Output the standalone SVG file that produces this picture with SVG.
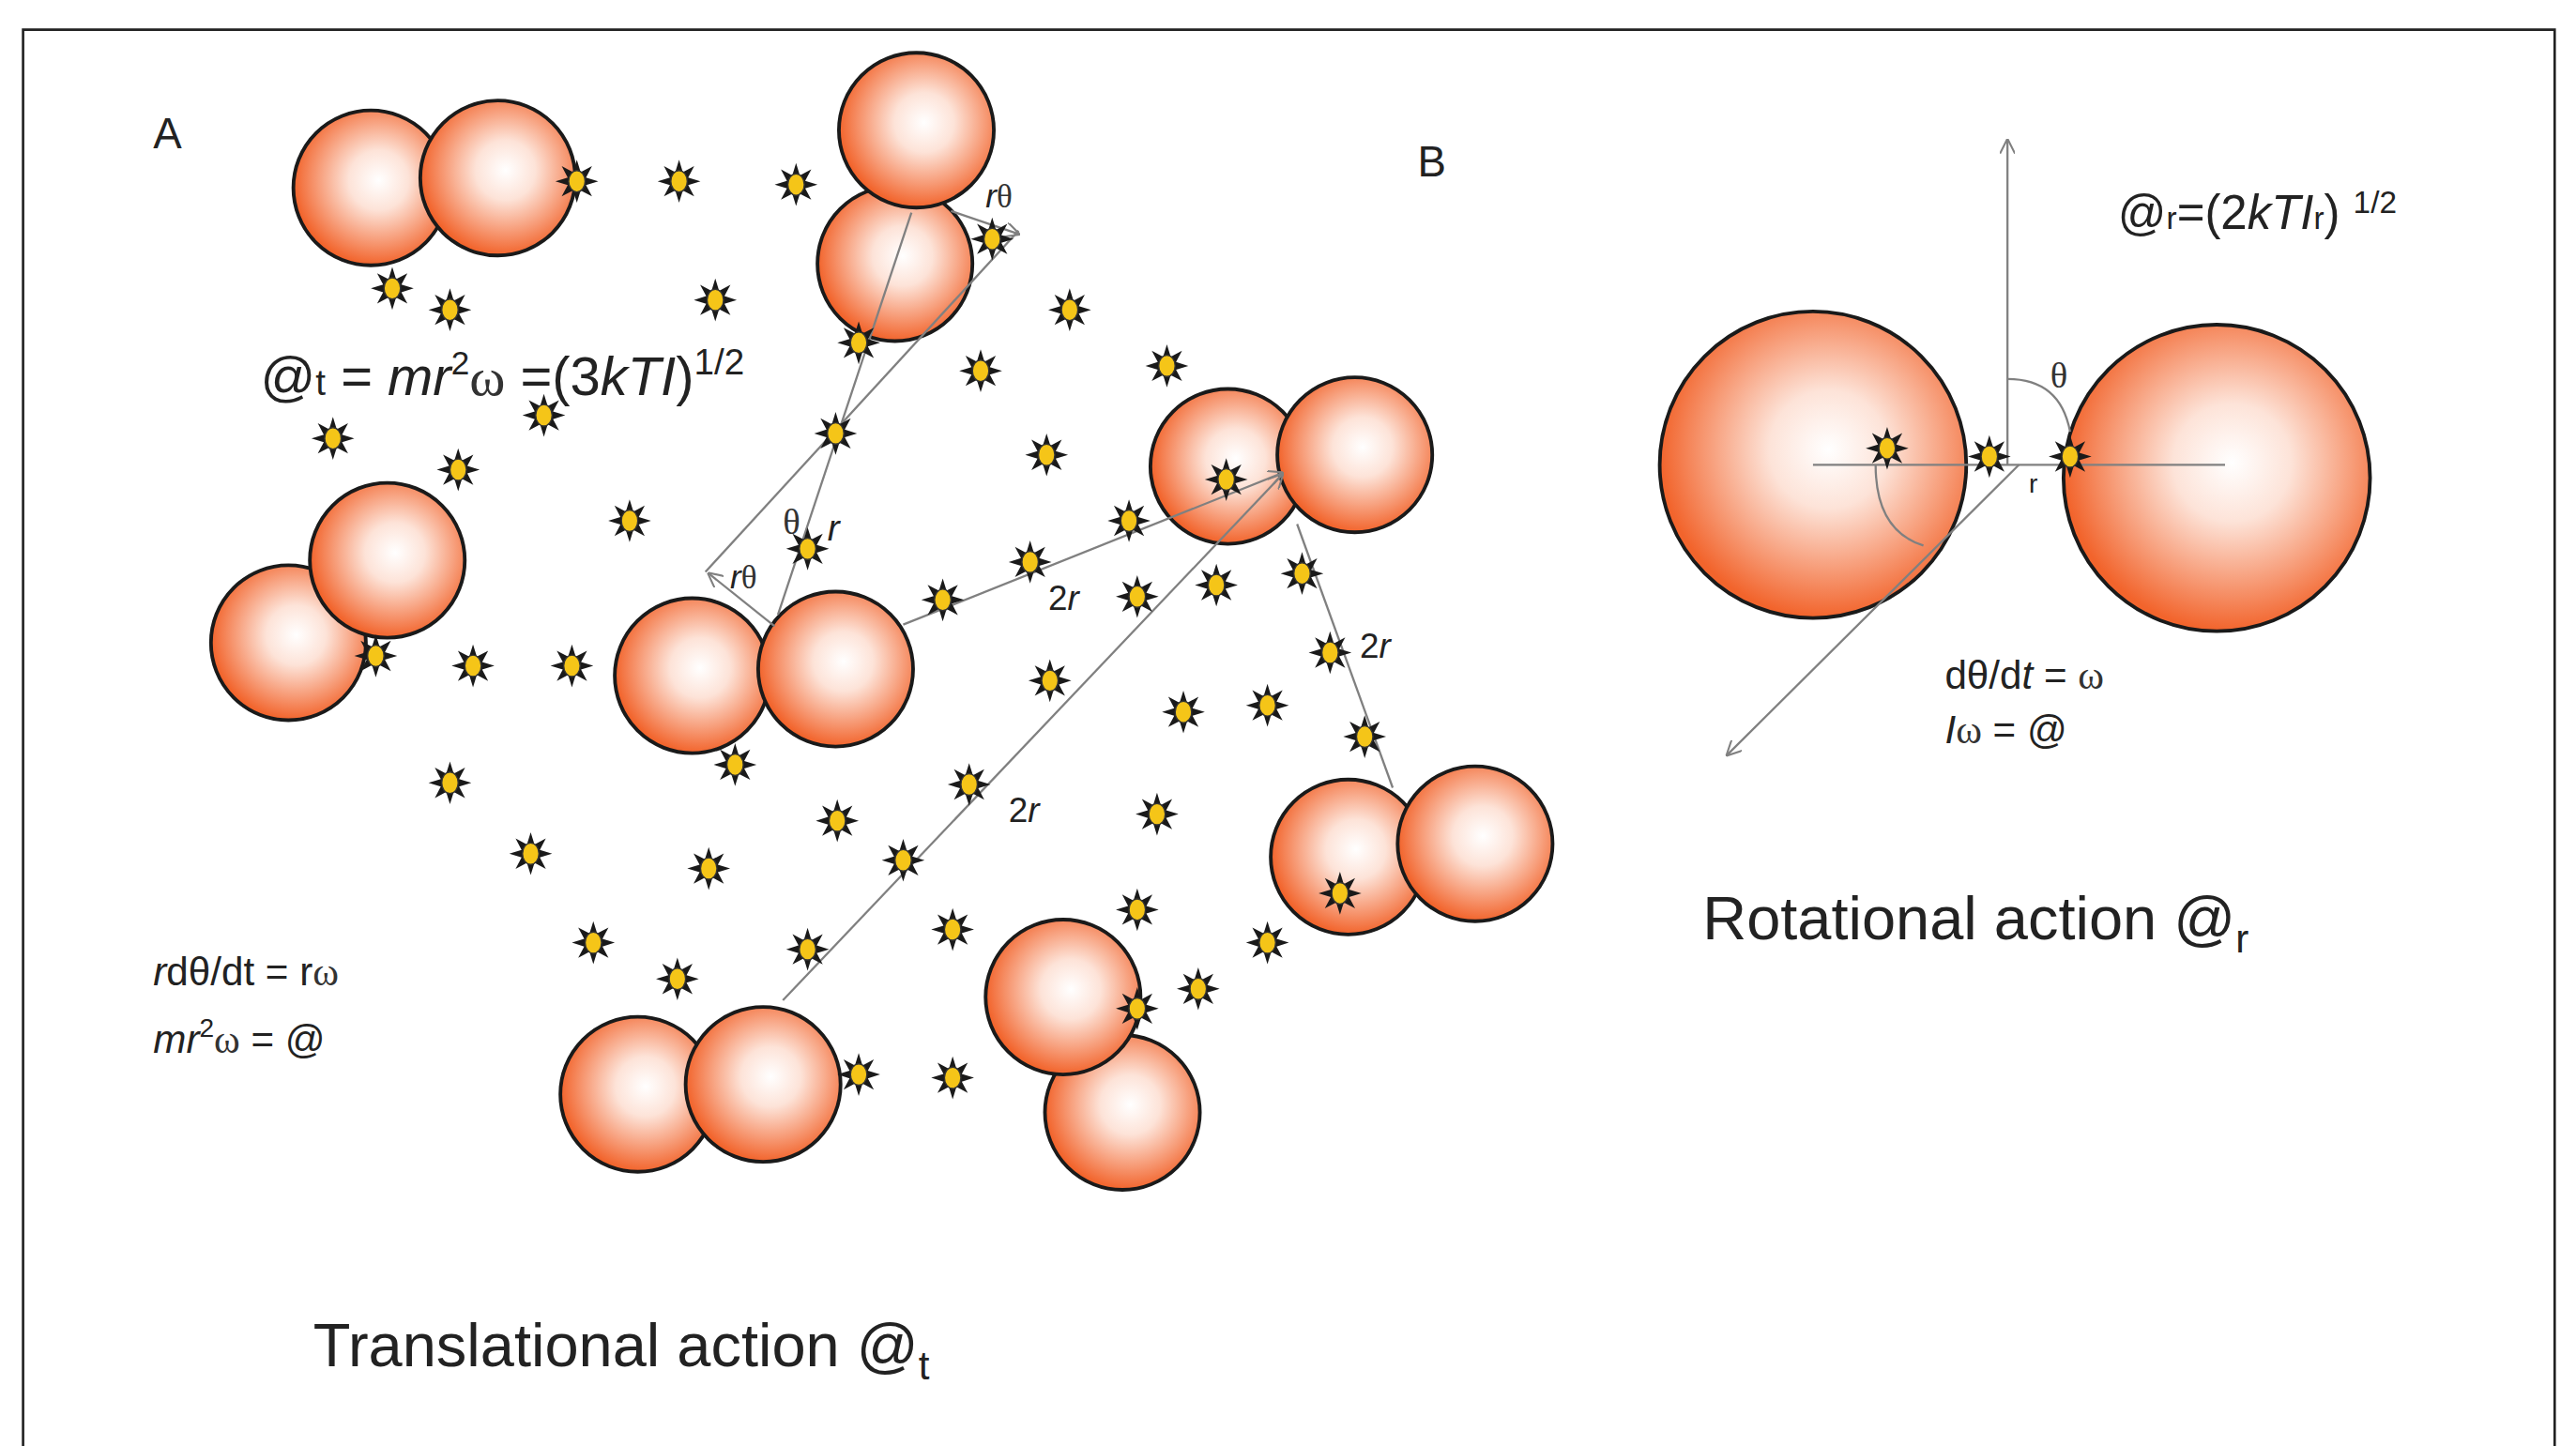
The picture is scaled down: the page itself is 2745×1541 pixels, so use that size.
<svg xmlns="http://www.w3.org/2000/svg" xmlns:xlink="http://www.w3.org/1999/xlink" width="2745" height="1541" viewBox="0 0 2745 1541">
<style>
.b{fill:url(#g);stroke:#1a1a1a;stroke-width:2.2}
.l{stroke:#808080;stroke-width:1.3;fill:none}
.t{font-family:"Liberation Sans",Arial,sans-serif;fill:#222}
.s{font-family:"Liberation Serif","Times New Roman",serif;fill:#333}
</style>
<defs>
<radialGradient id="g" cx="0.55" cy="0.45" r="0.55">
<stop offset="0" stop-color="#ffffff"/><stop offset="0.35" stop-color="#fde3d8"/><stop offset="1" stop-color="#f2642c"/>
</radialGradient>
<g id="st"><path d="M0,-13 L2.3,-5.54 9.19,-9.19 5.54,-2.3 13,0 5.54,2.3 9.19,9.19 2.3,5.54 0,13 -2.3,5.54 -9.19,9.19 -5.54,2.3 -13,0 -5.54,-2.3 -9.19,-9.19 -2.3,-5.54Z" fill="#1a1a1a"/><ellipse rx="5" ry="6.5" fill="#f5c518" stroke="#333" stroke-width="0.8"/></g>
<marker id="a" viewBox="0 0 10 10" refX="9" refY="5" markerWidth="7" markerHeight="7" orient="auto"><path d="M0,0 L10,5 L0,10" fill="none" stroke="#808080" stroke-width="1.3"/></marker>
</defs>
<rect width="2745" height="1541" fill="#fff"/>
<g transform="scale(1.7563)">
<path d="M14,880 V18 H1550 V880" fill="none" stroke="#222" stroke-width="1.5"/>
<g id="dimer1"><circle class="b" cx="225" cy="114" r="47"/><circle class="b" cx="302" cy="108" r="47"/></g>
<g id="dimer2"><circle class="b" cx="543" cy="160" r="47"/><circle class="b" cx="556" cy="79" r="47"/></g>
<g id="dimer3"><circle class="b" cx="745" cy="283" r="47"/><circle class="b" cx="822" cy="276" r="47"/></g>
<g id="dimer4"><circle class="b" cx="175" cy="390" r="47"/><circle class="b" cx="235" cy="340" r="47"/></g>
<g id="dimer5"><circle class="b" cx="420" cy="410" r="47"/><circle class="b" cx="507" cy="406" r="47"/></g>
<g id="dimer6"><circle class="b" cx="818" cy="520" r="47"/><circle class="b" cx="895" cy="512" r="47"/></g>
<g id="dimer7"><circle class="b" cx="387" cy="664" r="47"/><circle class="b" cx="463" cy="658" r="47"/></g>
<g id="dimer8"><circle class="b" cx="681" cy="675" r="47"/><circle class="b" cx="645" cy="605" r="47"/></g>
<g id="bigdimer"><circle class="b" cx="1100" cy="282" r="93"/><circle class="b" cx="1345" cy="290" r="93"/></g>
<g id="connectors">
<line class="l" x1="553" y1="129" x2="472" y2="373"/>
<line class="l" x1="618" y1="140" x2="428" y2="347"/>
<line class="l" x1="470" y1="380" x2="430" y2="348" marker-end="url(#a)"/>
<line class="l" x1="577" y1="128" x2="618" y2="142" marker-end="url(#a)"/>
<line class="l" x1="548" y1="379" x2="778" y2="287" marker-end="url(#a)"/>
<line class="l" x1="475" y1="607" x2="778" y2="288" marker-end="url(#a)"/>
<line class="l" x1="787" y1="318" x2="845" y2="478"/>
<line class="l" x1="1218" y1="282" x2="1218" y2="85" marker-end="url(#a)"/>
<line class="l" x1="1100" y1="282" x2="1350" y2="282"/>
<line class="l" x1="1225" y1="282" x2="1048" y2="458" marker-end="url(#a)"/>
<path class="l" d="M1218,230 Q1250,230 1256,262"/>
<path class="l" d="M1138,282 Q1138,322 1167,331"/>
</g>
<g id="stars">
<use href="#st" x="350" y="110"/><use href="#st" x="412" y="110"/><use href="#st" x="483" y="112"/><use href="#st" x="238" y="175"/><use href="#st" x="273" y="188"/><use href="#st" x="434" y="182"/><use href="#st" x="602" y="145"/><use href="#st" x="521" y="208"/><use href="#st" x="649" y="188"/><use href="#st" x="595" y="225"/><use href="#st" x="708" y="222"/><use href="#st" x="330" y="252"/><use href="#st" x="202" y="266"/><use href="#st" x="507" y="263"/><use href="#st" x="635" y="276"/><use href="#st" x="278" y="285"/><use href="#st" x="382" y="316"/><use href="#st" x="685" y="316"/><use href="#st" x="744" y="291"/><use href="#st" x="490" y="333"/><use href="#st" x="625" y="341"/><use href="#st" x="572" y="364"/><use href="#st" x="690" y="362"/><use href="#st" x="738" y="355"/><use href="#st" x="790" y="348"/><use href="#st" x="228" y="398"/><use href="#st" x="287" y="404"/><use href="#st" x="347" y="404"/><use href="#st" x="637" y="413"/><use href="#st" x="807" y="396"/><use href="#st" x="718" y="432"/><use href="#st" x="769" y="428"/><use href="#st" x="828" y="447"/><use href="#st" x="446" y="464"/><use href="#st" x="273" y="475"/><use href="#st" x="588" y="476"/><use href="#st" x="508" y="498"/><use href="#st" x="702" y="494"/><use href="#st" x="322" y="518"/><use href="#st" x="430" y="527"/><use href="#st" x="548" y="522"/><use href="#st" x="690" y="552"/><use href="#st" x="578" y="564"/><use href="#st" x="813" y="542"/><use href="#st" x="360" y="572"/><use href="#st" x="490" y="576"/><use href="#st" x="411" y="594"/><use href="#st" x="769" y="572"/><use href="#st" x="727" y="600"/><use href="#st" x="690" y="612"/><use href="#st" x="521" y="652"/><use href="#st" x="578" y="654"/><use href="#st" x="1145" y="272"/><use href="#st" x="1207" y="277"/><use href="#st" x="1256" y="277"/>
</g>
<g id="labels">
<text class="t" x="93" y="90" font-size="26">A</text>
<text class="t" x="860" y="107" font-size="26">B</text>
<text class="t" x="158" y="240" font-size="33">@<tspan font-size="22">t</tspan> = <tspan font-style="italic">mr</tspan><tspan font-size="20" dy="-13">2</tspan><tspan class="s" dy="13">ω</tspan> =(3<tspan font-style="italic">kTI</tspan>)<tspan font-size="22" dy="-13">1/2</tspan></text>
<text class="t" x="598" y="126" font-size="20"><tspan font-style="italic">r</tspan><tspan class="s">θ</tspan></text>
<text class="t" x="443" y="357" font-size="20"><tspan font-style="italic">r</tspan><tspan class="s">θ</tspan></text>
<text class="s" x="475" y="324" font-size="22">θ</text>
<text class="t" x="502" y="328" font-size="22" font-style="italic">r</text>
<text class="t" x="636" y="370" font-size="21">2<tspan font-style="italic">r</tspan></text>
<text class="t" x="612" y="499" font-size="21">2<tspan font-style="italic">r</tspan></text>
<text class="t" x="825" y="399" font-size="21">2<tspan font-style="italic">r</tspan></text>
<text class="t" x="93" y="598" font-size="24"><tspan font-style="italic">r</tspan>dθ/dt = r<tspan class="s">ω</tspan></text>
<text class="t" x="93" y="639" font-size="24"><tspan font-style="italic">mr</tspan><tspan font-size="16" dy="-10">2</tspan><tspan class="s" dy="10">ω</tspan> =  @</text>
<text class="t" x="190" y="829" font-size="37">Translational action @<tspan font-size="24" dy="8">t</tspan></text>
<text class="t" x="1285" y="139" font-size="29">@<tspan font-size="19">r</tspan>=(2<tspan font-style="italic">kTI</tspan><tspan font-size="19">r</tspan>) <tspan font-size="19" dy="-10">1/2</tspan></text>
<text class="s" x="1244" y="235" font-size="22">θ</text>
<text class="t" x="1231" y="299" font-size="16">r</text>
<text class="t" x="1180" y="418" font-size="24">dθ/d<tspan font-style="italic">t</tspan> = <tspan class="s">ω</tspan></text>
<text class="t" x="1180" y="451" font-size="24"><tspan font-style="italic">I</tspan><tspan class="s">ω</tspan> =  @</text>
<text class="t" x="1033" y="570" font-size="37">Rotational action @<tspan font-size="24" dy="8">r</tspan></text>
</g>
</g>
</svg>
